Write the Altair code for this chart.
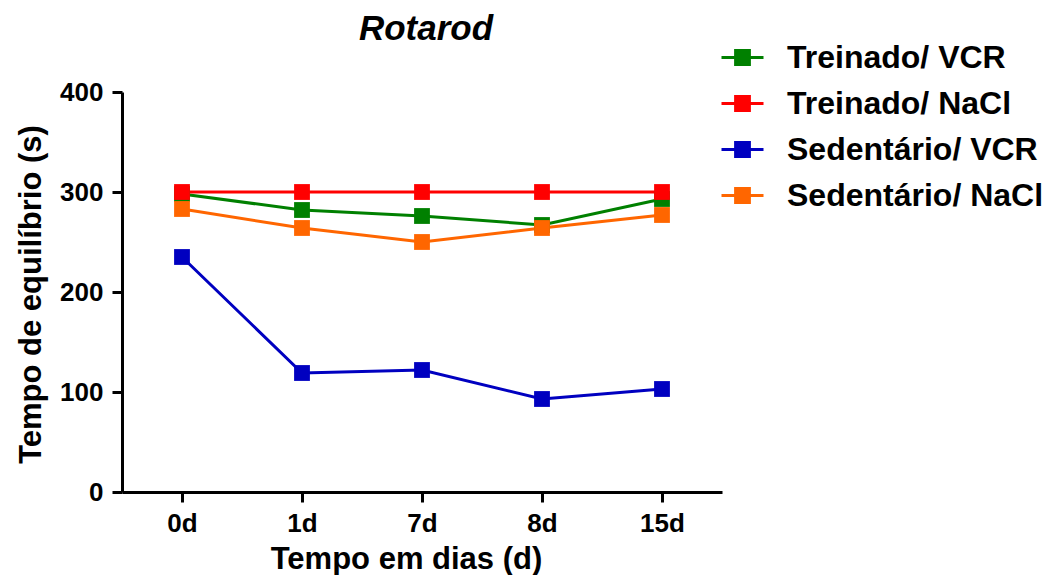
import altair as alt
import pandas as pd

days = ["0d", "1d", "7d", "8d", "15d"]
groups = ["Treinado/ VCR", "Treinado/ NaCl", "Sedentário/ VCR", "Sedentário/ NaCl"]
colors = ["#008000", "#FF0000", "#0000C0", "#FF6600"]
title_text = ["Rotarod"]

treinado_vcr = [298, 282, 276, 267, 293]
treinado_nacl = [300, 300, 300, 300, 300]
sedentario_vcr = [235, 119, 122, 93, 103]
sedentario_nacl = [283, 264, 250, 264, 277]

series = [treinado_vcr, treinado_nacl, sedentario_vcr, sedentario_nacl]
rows = []
for g, vals in zip(groups, series):
    for d, v in zip(days, vals):
        rows.append({"dia": d, "tempo": v, "grupo": g})
df = pd.DataFrame(rows)

# drawing order of point markers: green, blue, orange, red
point_order = ["Treinado/ VCR", "Sedentário/ VCR", "Sedentário/ NaCl", "Treinado/ NaCl"]
df_points = pd.concat([df[df["grupo"] == g] for g in point_order])

FONT = "Liberation Sans"
cscale = alt.Scale(domain=groups, range=colors)

x = alt.X("dia:N", sort=days, scale=alt.Scale(type="point", padding=0.5),
          axis=alt.Axis(title="Tempo em dias (d)", labelAngle=0, titleX=284, titleY=76,
                        titleBaseline="alphabetic", titleAlign="center"))
y = alt.Y("tempo:Q", scale=alt.Scale(domain=[0, 400], nice=False),
          axis=alt.Axis(title="Tempo de equilíbrio (s)", values=[0, 100, 200, 300, 400],
                        titleX=-82, titleY=202, titleAngle=-90, titleBaseline="alphabetic",
                        titleAlign="center"))

sq = "M-1,0H1" + "".join(f"M-0.4,{v}H0.4" for v in [-0.33, -0.22, -0.11, 0, 0.11, 0.22, 0.33])

legend = alt.Legend(title=None, orient="none", legendX=598, legendY=-57, symbolType=sq,
                    symbolSize=1764, symbolStrokeWidth=3, labelFont=FONT, labelFontSize=32,
                    labelFontWeight="bold", labelColor="black", labelOffset=22, rowPadding=7,
                    padding=0, labelLimit=400)

lines = alt.Chart(df).mark_line(strokeWidth=3).encode(
    x=x, y=y, stroke=alt.Stroke("grupo:N", scale=cscale, sort=groups, legend=legend),
    detail="grupo:N")

points = alt.Chart(df_points).mark_point(shape="square", filled=True, size=250, opacity=1).encode(
    x=x, y=y, fill=alt.Fill("grupo:N", scale=cscale, legend=None))

title = alt.Chart(pd.DataFrame({"t": title_text})).mark_text(
    font=FONT, fontSize=35, fontStyle="italic", fontWeight="bold", color="black",
    align="center", baseline="alphabetic"
).encode(text="t:N", x=alt.value(304), y=alt.value(-52))

chart = alt.layer(lines, points, title).properties(
    width=600, height=400,
    autosize=alt.AutoSizeParams(type="none"),
    padding={"left": 114, "top": 84, "right": 326, "bottom": 83},
).configure_view(stroke=None).configure_axis(
    grid=False, domainColor="black", domainWidth=3, tickColor="black", tickWidth=3,
    tickSize=10, labelFont=FONT, labelFontSize=26, labelFontWeight="bold", labelColor="black",
    labelPadding=9, titleFont=FONT, titleFontSize=31, titleFontWeight="bold", titleColor="black"
).configure_axisX(labelPadding=8)

chart.save("out.html", embed_options={"renderer": "svg", "actions": False})
